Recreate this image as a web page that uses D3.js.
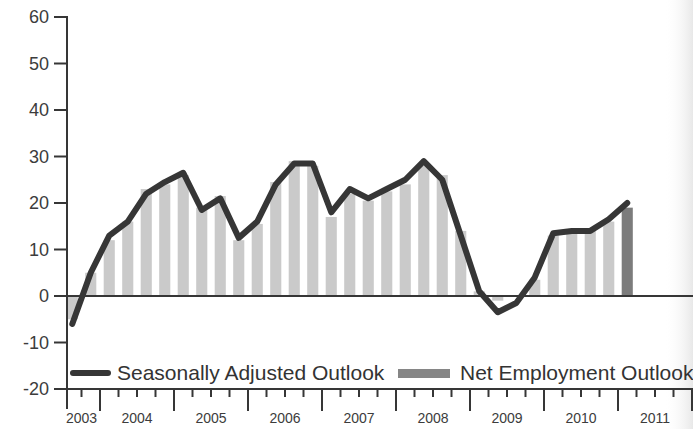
<!DOCTYPE html>
<html>
<head>
<meta charset="utf-8">
<script src="https://cdn.jsdelivr.net/npm/d3@7/dist/d3.min.js"></script>
<style>
  html, body { margin: 0; padding: 0; background: #fff; }
  svg { display: block; font-family: "Liberation Sans", Arial, sans-serif; }
</style>
</head>
<body>
<svg id="chart" width="693" height="429"></svg>
<script>
// Quarterly categories, 2003 Q3 through 2011 Q1
const quarters = [
  "2003 Q3","2003 Q4",
  "2004 Q1","2004 Q2","2004 Q3","2004 Q4",
  "2005 Q1","2005 Q2","2005 Q3","2005 Q4",
  "2006 Q1","2006 Q2","2006 Q3","2006 Q4",
  "2007 Q1","2007 Q2","2007 Q3","2007 Q4",
  "2008 Q1","2008 Q2","2008 Q3","2008 Q4",
  "2009 Q1","2009 Q2","2009 Q3","2009 Q4",
  "2010 Q1","2010 Q2","2010 Q3","2010 Q4",
  "2011 Q1"
];

// Net Employment Outlook (%)
const netEmployment = [
  -5, 5,
  12, 16, 23, 24,
  26, 19, 21.5, 12,
  15.5, 24.5, 29, 28,
  17, 22, 20.5, 22.5,
  24, 28, 26, 14,
  1, -1, 0, 3.5,
  13, 13.5, 14, 16,
  19
];

// Seasonally Adjusted Outlook (%)
const seasonallyAdjusted = [
  -6, 5,
  13, 16, 22, 24.5,
  26.5, 18.5, 21, 12.5,
  16, 24, 28.5, 28.5,
  18, 23, 21, 23,
  25, 29, 25, 13,
  1, -3.5, -1.5, 4,
  13.5, 14, 14, 16.5,
  20
];

const years = ["2003","2004","2005","2006","2007","2008","2009","2010","2011"];
const yTicks = [60, 50, 40, 30, 20, 10, 0, -10, -20];

// Full axis runs to the end of 2011
const axisQuarters = years
  .flatMap(yr => ["Q1","Q2","Q3","Q4"].map(q => yr + " " + q))
  .slice(2);

const svg = d3.select("#chart");
const W = 693, H = 429;
const plotLeft = 67, plotRight = 692, plotTop = 17, plotBottom = 389;

const x = d3.scaleBand()
  .domain(axisQuarters)
  .range([63, plotRight])
  .paddingInner(0.4)
  .paddingOuter(0.2);

const y = d3.scaleLinear().domain([-20, 60]).range([plotBottom, plotTop]);

const ink = "#363636";

// soft paper shading at the right edge
const defs = svg.append("defs");
const grad = defs.append("linearGradient").attr("id", "edge").attr("x1", 0).attr("x2", 1);
grad.append("stop").attr("offset", 0).attr("stop-color", "#fff").attr("stop-opacity", 0);
grad.append("stop").attr("offset", 1).attr("stop-color", "#e8e8e8").attr("stop-opacity", 1);
svg.append("rect").attr("x", 664).attr("y", 0).attr("width", 29).attr("height", H).attr("fill", "url(#edge)");

// bars
const bars = quarters.map((q, i) => ({ q, v: netEmployment[i], last: i === quarters.length - 1 }));
svg.append("g").selectAll("rect").data(bars).join("rect")
  .attr("x", d => x(d.q))
  .attr("width", x.bandwidth())
  .attr("y", d => y(Math.max(0, d.v)))
  .attr("height", d => Math.abs(y(d.v) - y(0)))
  .attr("fill", d => d.last ? "#7c7c7c" : "#cacaca");

// zero line
svg.append("line")
  .attr("x1", plotLeft).attr("x2", W)
  .attr("y1", y(0)).attr("y2", y(0))
  .attr("stroke", ink).attr("stroke-width", 2);

// seasonally adjusted line
const line = d3.line()
  .x((d, i) => x(quarters[i]) + x.bandwidth() / 2)
  .y(d => y(d));
svg.append("path")
  .datum(seasonallyAdjusted)
  .attr("d", line)
  .attr("fill", "none")
  .attr("stroke", ink)
  .attr("stroke-width", 6)
  .attr("stroke-linejoin", "round")
  .attr("stroke-linecap", "round");

// y axis
const yAxis = svg.append("g");
yAxis.append("line")
  .attr("x1", plotLeft).attr("x2", plotLeft)
  .attr("y1", y(60) - 1).attr("y2", 409)
  .attr("stroke", ink).attr("stroke-width", 2);
yAxis.selectAll(".yt").data(yTicks).join("line")
  .attr("x1", 54).attr("x2", plotLeft)
  .attr("y1", d => y(d)).attr("y2", d => y(d))
  .attr("stroke", ink).attr("stroke-width", 2);
yAxis.selectAll("text").data(yTicks).join("text")
  .attr("x", 49).attr("y", d => y(d))
  .attr("dy", "0.36em")
  .attr("text-anchor", "end")
  .attr("font-size", 18)
  .attr("fill", "#3c3c3c")
  .text(d => d);

// x axis
const xAxis = svg.append("g");
xAxis.append("line")
  .attr("x1", plotLeft).attr("x2", W)
  .attr("y1", plotBottom).attr("y2", plotBottom)
  .attr("stroke", ink).attr("stroke-width", 2);
const half = x.step() * x.paddingInner() / 2;
const boundaries = axisQuarters.slice(1).map(q => ({ x: x(q) - half, major: q.endsWith("Q1") }));
boundaries.push({ x: plotRight, major: true });
xAxis.selectAll(".xt").data(boundaries).join("line")
  .attr("x1", d => d.x).attr("x2", d => d.x)
  .attr("y1", plotBottom).attr("y2", d => plotBottom + (d.major ? 22 : 8))
  .attr("stroke", ink).attr("stroke-width", 2);

// year labels centred in each year's span
const yearSpans = years.map(yr => {
  const qs = axisQuarters.filter(q => q.startsWith(yr));
  const x0 = x(qs[0]) - half;
  const x1 = x(qs[qs.length - 1]) + x.bandwidth() + half;
  return { yr, c: (x0 + x1) / 2 };
});
xAxis.selectAll("text").data(yearSpans).join("text")
  .attr("x", d => d.c).attr("y", 423)
  .attr("text-anchor", "middle")
  .attr("font-size", 14)
  .attr("fill", "#3c3c3c")
  .text(d => d.yr);

// legend
const lg = svg.append("g");
lg.append("line")
  .attr("x1", 73).attr("x2", 108).attr("y1", 373).attr("y2", 373)
  .attr("stroke", ink).attr("stroke-width", 6).attr("stroke-linecap", "round");
lg.append("text")
  .attr("x", 117).attr("y", 380)
  .attr("font-size", 21).attr("fill", "#333")
  .text("Seasonally Adjusted Outlook");
lg.append("rect")
  .attr("x", 398).attr("y", 369).attr("width", 52).attr("height", 9)
  .attr("fill", "#868686");
lg.append("text")
  .attr("x", 460).attr("y", 380)
  .attr("font-size", 21).attr("fill", "#333")
  .text("Net Employment Outlook");
</script>
</body>
</html>
